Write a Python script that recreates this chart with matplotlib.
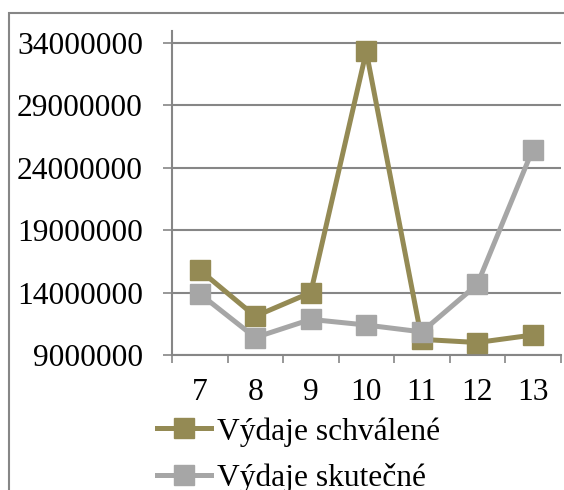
import matplotlib
matplotlib.use("Agg")
import matplotlib.pyplot as plt
from matplotlib.lines import Line2D
from matplotlib.patches import Rectangle

categories = ["7", "8", "9", "10", "11", "12", "13"]
schvalene = [15800000, 12100000, 14000000, 33300000, 10250000, 10000000, 10600000]
skutecne = [13900000, 10400000, 11850000, 11400000, 10850000, 14650000, 25450000]
y_ticks = [9000000, 14000000, 19000000, 24000000, 29000000, 34000000]
series_names = ["Výdaje schválené", "Výdaje skutečné"]

W, H = 564, 490
plt.rcParams['font.family'] = ['Liberation Serif', 'DejaVu Serif']
fig = plt.figure(figsize=(W / 100, H / 100), dpi=100)

# chart area border
fig.patches.append(Rectangle((9 / W, -0.1), 1.2, 1 - 13 / H + 0.1, transform=fig.transFigure,
                             fill=False, edgecolor='#868686', linewidth=1.5))

left, right, top, bottom = 172, 560.5, 31, 355
ax = fig.add_axes([left / W, 1 - bottom / H, (right - left) / W, (bottom - top) / H])

grid_c = '#868686'
olive = '#948A54'
gray = '#A6A6A6'
fs = 22.7
x = list(range(len(categories)))
ax.plot(x, schvalene, color=olive, lw=3.6, marker='s', ms=14.5, mec=olive, mfc=olive, zorder=3)
ax.plot(x, skutecne, color=gray, lw=3.6, marker='s', ms=14.5, mec=gray, mfc=gray, zorder=4)

ax.set_xlim(-0.5, len(categories) - 0.5)
ax.set_ylim(9000000, 34940000)
ax.set_yticks(y_ticks)
ax.set_yticklabels([str(v) for v in y_ticks], fontsize=fs)
ax.set_xticks(x)
ax.set_xticklabels(categories, fontsize=fs)
ax.set_xticks([i - 0.5 for i in range(len(categories) + 1)], minor=True)
ax.tick_params(axis='x', which='major', length=0, pad=16.5)
ax.tick_params(axis='x', which='minor', length=6, width=1.2, color=grid_c, direction='out')
ax.tick_params(axis='y', which='major', length=6.5, width=1.2, color=grid_c, pad=14.4)
ax.yaxis.grid(True, color=grid_c, lw=1.5)
ax.set_axisbelow(True)
for s in ['top', 'right']:
    ax.spines[s].set_visible(False)
for s in ['left', 'bottom']:
    ax.spines[s].set_color(grid_c)
    ax.spines[s].set_linewidth(1.5)

handles = [Line2D([], [], color=olive, lw=3.6, marker='s', ms=14),
           Line2D([], [], color=gray, lw=3.6, marker='s', ms=14)]
fig.legend(handles, series_names, loc='upper left', bbox_to_anchor=(157 / W, 1 - 417 / H),
           frameon=False, fontsize=fs, handlelength=1.7, handletextpad=0.2,
           labelspacing=0.52, borderpad=0, borderaxespad=0)

fig.savefig('out.png', dpi=100)
